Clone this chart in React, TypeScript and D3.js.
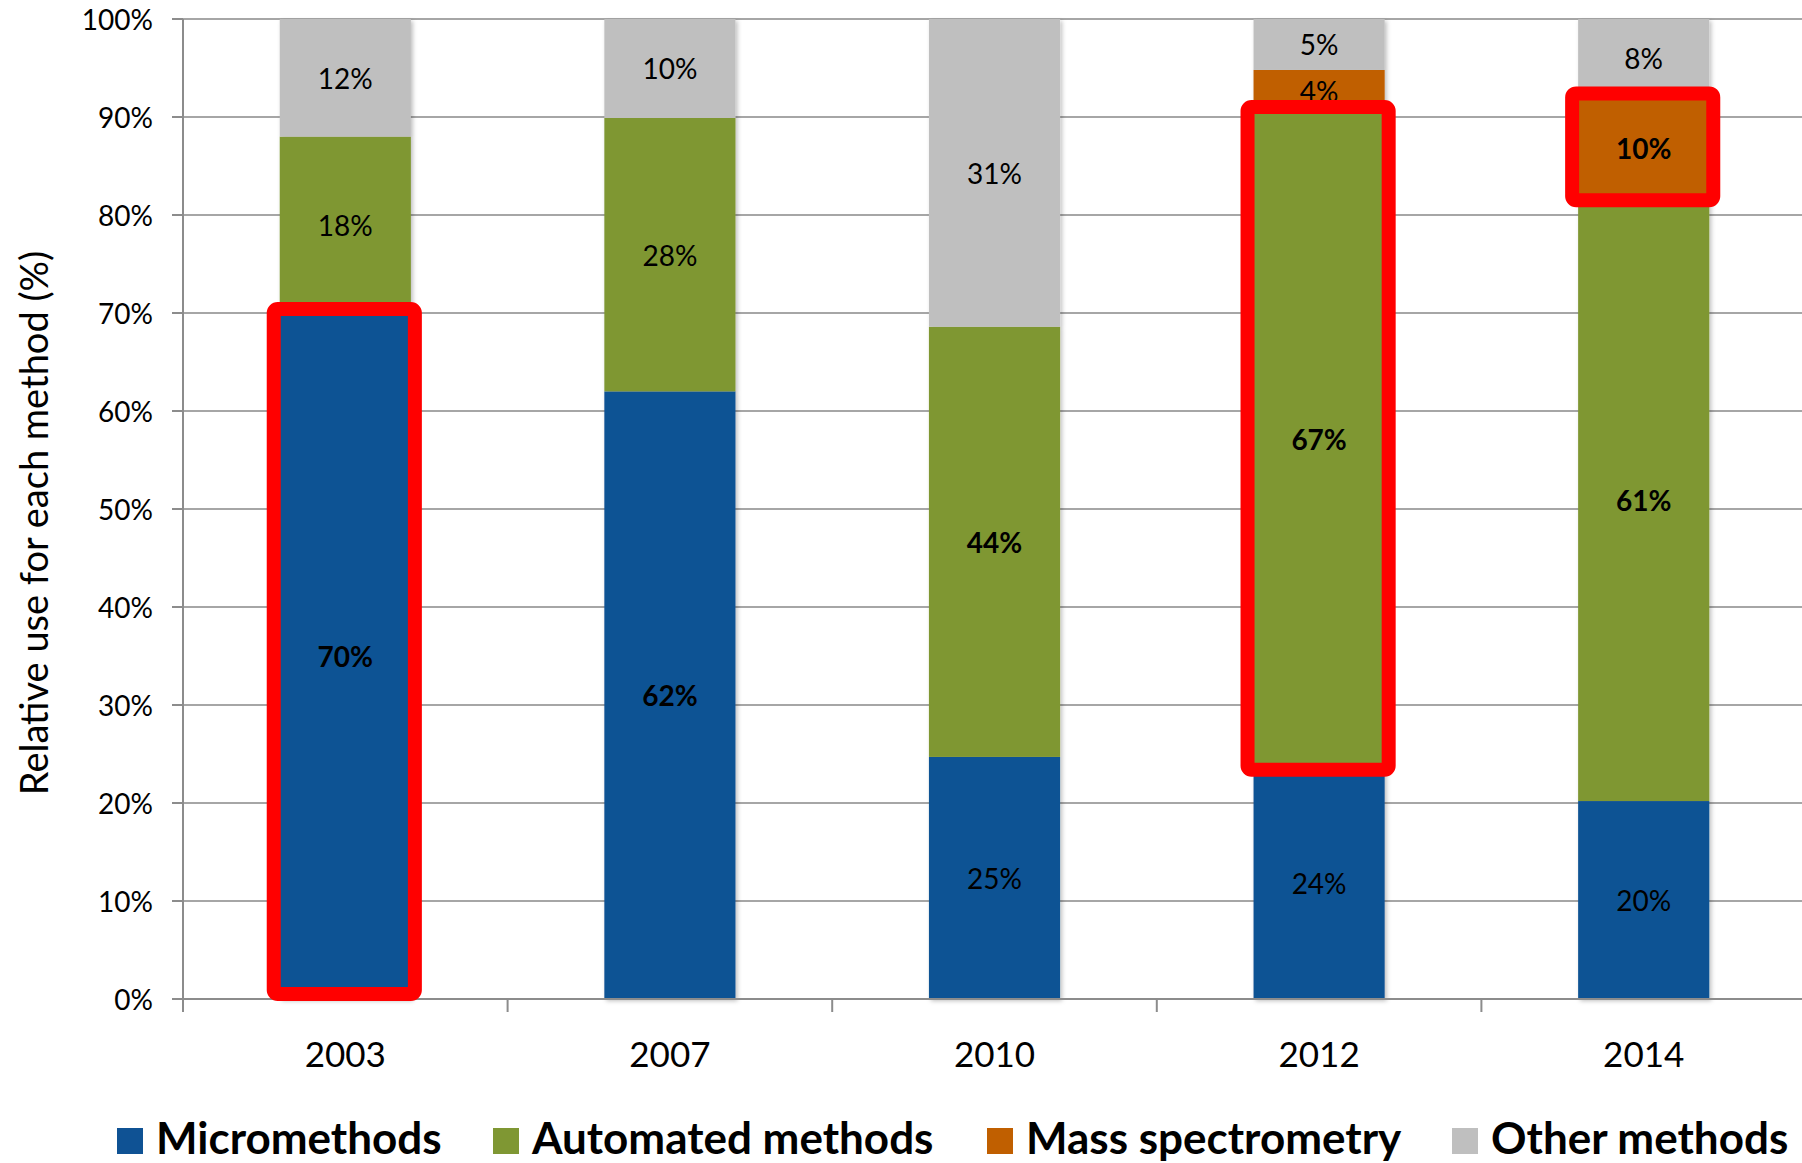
import React from "react";
import * as d3 from "d3";

const years = ["2003", "2007", "2010", "2012", "2014"];
const seriesNames = ["Micromethods", "Automated methods", "Mass spectrometry", "Other methods"];
const seriesKeys = ["micro", "auto", "mass", "other"];
const seriesColors = ["#0F5294", "#7F9733", "#C05F00", "#BFBFBF"];

const micromethods = [70.0, 62.0, 24.7, 23.6, 20.2];
const automated = [18.0, 27.9, 43.9, 67.0, 61.5];
const massSpectrometry = [0, 0, 0, 4.2, 10.3];
const otherMethods = [12.0, 10.1, 31.4, 5.2, 8.0];

const microLabels = ["70%", "62%", "25%", "24%", "20%"];
const autoLabels = ["18%", "28%", "44%", "67%", "61%"];
const massLabels = ["", "", "", "4%", "10%"];
const otherLabels = ["12%", "10%", "31%", "5%", "8%"];

// [series key, year] of bold labels
const boldLabels = [
  ["micro", "2003"],
  ["micro", "2007"],
  ["auto", "2010"],
  ["auto", "2012"],
  ["auto", "2014"],
  ["mass", "2014"],
];
// highlighted segments (red boxes)
const highlights = [
  ["micro", "2003"],
  ["auto", "2012"],
  ["mass", "2014"],
];

const yTicks = [0, 10, 20, 30, 40, 50, 60, 70, 80, 90, 100];

const W = 1802;
const H = 1163;
const FONT = "Lato, 'Open Sans', sans-serif";

export default function App() {
  const left = 183;
  const right = 1806;
  const top = 19;
  const bottom = 999;

  const x = d3
    .scaleBand<string>()
    .domain(years)
    .range([left, right])
    .paddingInner(0.596)
    .paddingOuter(0.298);
  const y = d3.scaleLinear().domain([0, 100]).range([bottom, top]);

  const rows = years.map((yr, i) => ({
    year: yr,
    micro: micromethods[i],
    auto: automated[i],
    mass: massSpectrometry[i],
    other: otherMethods[i],
  }));
  const labelMap: Record<string, string[]> = {
    micro: microLabels,
    auto: autoLabels,
    mass: massLabels,
    other: otherLabels,
  };
  const stack = d3.stack<any>().keys(seriesKeys)(rows);

  const step = x.step();
  const boundaries = d3.range(years.length + 1).map((i) => left + i * step);
  const gridColor = "#A6A6A6";
  const axisColor = "#8C8C8C";

  const isBold = (k: string, yr: string) => boldLabels.some((b) => b[0] === k && b[1] === yr);

  const legendX = [117, 493, 987, 1452];

  return (
    <svg
      width={W}
      height={H}
      style={{ position: "absolute", left: 0, top: 0, background: "#fff" }}
      fontFamily={FONT}
    >
      <defs>
        <filter id="shadow" x="-10%" y="-10%" width="130%" height="130%">
          <feDropShadow dx="2" dy="2" stdDeviation="2" floodColor="#000" floodOpacity="0.25" />
        </filter>
      </defs>
      {/* gridlines */}
      {yTicks.map((t) => (
        <line key={"g" + t} x1={left} x2={W} y1={y(t)} y2={y(t)} stroke={gridColor} strokeWidth={2} />
      ))}
      {/* bars */}
      <g filter="url(#shadow)">
        {stack.map((s, si) =>
          s.map((d, i) =>
            d[1] - d[0] > 0 ? (
              <rect
                key={s.key + i}
                x={x(years[i])}
                width={x.bandwidth()}
                y={y(d[1])}
                height={y(d[0]) - y(d[1])}
                fill={seriesColors[si]}
              />
            ) : null
          )
        )}
      </g>
      {/* axes */}
      <line x1={left} x2={left} y1={top} y2={bottom} stroke={axisColor} strokeWidth={2} />
      {yTicks.map((t) => (
        <g key={"yt" + t}>
          <line x1={left - 11} x2={left} y1={y(t)} y2={y(t)} stroke={axisColor} strokeWidth={2} />
          <text
            x={153}
            y={y(t)}
            textAnchor="end"
            dominantBaseline="central"
            fontSize={28}
            fill="#000"
          >
            {t + "%"}
          </text>
        </g>
      ))}
      <line x1={left} x2={W} y1={bottom} y2={bottom} stroke={axisColor} strokeWidth={2} />
      {boundaries.map((b, i) => (
        <line key={"xt" + i} x1={b} x2={b} y1={bottom} y2={bottom + 13} stroke={axisColor} strokeWidth={2} />
      ))}
      {years.map((yr) => (
        <text
          key={"xl" + yr}
          x={(x(yr) as number) + x.bandwidth() / 2}
          y={1053}
          textAnchor="middle"
          dominantBaseline="central"
          fontSize={35}
        >
          {yr}
        </text>
      ))}
      <text
        transform={`translate(33, ${(top + bottom) / 2 + 14}) rotate(-90)`}
        textAnchor="middle"
        dominantBaseline="central"
        fontSize={38}
      >
        Relative use for each method (%)
      </text>
      {/* segment labels */}
      {stack.map((s) =>
        s.map((d, i) => {
          const lab = labelMap[s.key][i];
          if (!lab) return null;
          return (
            <text
              key={"l" + s.key + i}
              x={(x(years[i]) as number) + x.bandwidth() / 2}
              y={y((d[0] + d[1]) / 2)}
              textAnchor="middle"
              dominantBaseline="central"
              fontSize={28}
              fontWeight={isBold(s.key, years[i]) ? 700 : 400}
            >
              {lab}
            </text>
          );
        })
      )}
      {/* highlight boxes */}
      {highlights.map(([k, yr]) => {
        const s = stack.find((ss) => ss.key === k)!;
        const i = years.indexOf(yr);
        const d = s[i];
        const x0 = (x(yr) as number) - 6;
        const x1 = (x(yr) as number) + x.bandwidth() + 4;
        const y0 = y(d[1]) - 4;
        const y1 = Math.min(y(d[0]) + 2, bottom - 5);
        return (
          <rect
            key={"h" + k + yr}
            x={x0}
            y={y0}
            width={x1 - x0}
            height={y1 - y0}
            rx={4}
            fill="none"
            stroke="#FF0000"
            strokeWidth={14}
          />
        );
      })}
      {/* legend */}
      {seriesNames.map((n, i) => (
        <g key={"lg" + n}>
          <rect x={legendX[i]} y={1128} width={26} height={26} fill={seriesColors[i]} />
          <text x={legendX[i] + 39} y={1154} fontSize={44} fontWeight={700}>
            {n}
          </text>
        </g>
      ))}
    </svg>
  );
}
